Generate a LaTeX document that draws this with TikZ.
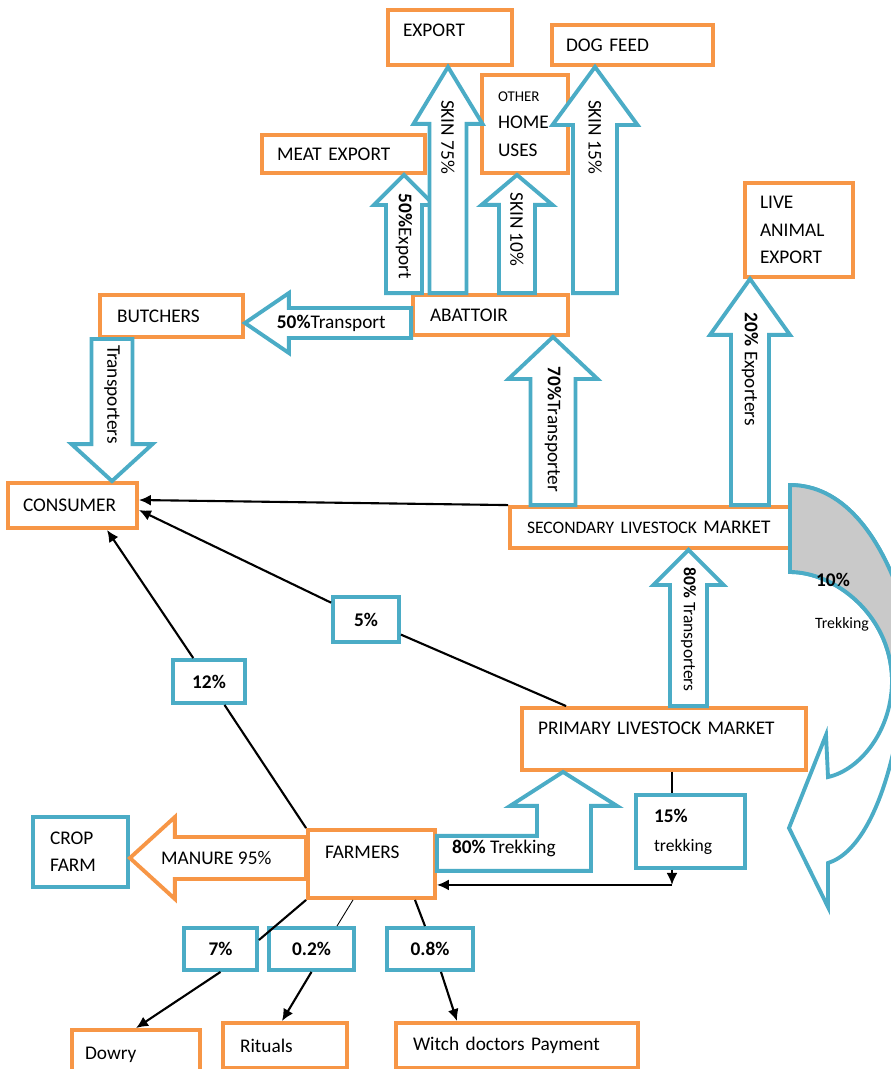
\documentclass[tikz,border=0pt]{standalone}
\usepackage{fontspec}
\setmainfont{Carlito}
\usetikzlibrary{arrows.meta,calc}

\definecolor{boxorange}{RGB}{247,150,70}
\definecolor{flowblue}{RGB}{75,172,198}
\definecolor{backgray}{RGB}{201,201,201}

% upright block arrow: tail, tip, shaft half, head half, head length (px), label pos, name, label
\newcommand{\vblk}[8]{%
  \draw[barrow] let \p1=(#1), \p2=(#2), \n1={sign(\y2-\y1)*#5*0.02cm} in
    (\x2-#3*0.02cm,\y1) -- (\x2-#3*0.02cm,\y2-\n1) -- (\x2-#4*0.02cm,\y2-\n1) -- (\p2)
    -- (\x2+#4*0.02cm,\y2-\n1) -- (\x2+#3*0.02cm,\y2-\n1) -- (\x2+#3*0.02cm,\y1) -- cycle
    node[vlbl] (#7) at (\x2,{\y1+#6*(\y2-\y1)}) {#8};}
% sideways block arrow: style, tail, tip, shaft half, head half, head length, label pos, name, label
\newcommand{\hblk}[9]{%
  \draw[#1] let \p1=(#2), \p2=(#3), \n1={sign(\x2-\x1)*#6*0.02cm} in
    (\x1,\y2+#4*0.02cm) -- (\x2-\n1,\y2+#4*0.02cm) -- (\x2-\n1,\y2+#5*0.02cm) -- (\p2)
    -- (\x2-\n1,\y2-#5*0.02cm) -- (\x2-\n1,\y2-#4*0.02cm) -- (\x1,\y2-#4*0.02cm) -- cycle
    node[hlbl] (#8) at ({\x1+#7*(\x2-\x1)},\y2) {#9};}

\begin{document}
\begin{tikzpicture}[
  x=0.02cm, y=-0.02cm,
  box/.style={draw=boxorange, line width=2.2pt, fill=white, inner sep=0pt, align=left,
    font=\fontsize{11}{15.6}\selectfont},
  bluebox/.style={box, draw=flowblue},
  pct/.style={bluebox, align=center, font=\fontsize{11}{13}\selectfont\bfseries},
  barrow/.style={draw=flowblue, line width=2.2pt, fill=white},
  oarrow/.style={barrow, draw=boxorange},
  vlbl/.style={rotate=-90, inner sep=0pt, font=\fontsize{11}{13}\selectfont},
  hlbl/.style={inner sep=0pt, font=\fontsize{11}{13}\selectfont},
  link/.style={line width=1.2pt, -{Latex[length=2.4mm,width=2.2mm]}},
  plain/.style={line width=1.2pt}
]
\clip (0,0) rectangle (891,1069);

% outlets of the abattoir
\node[box, minimum width=2.48cm, minimum height=1.1cm, text width=1.88cm, text depth=0.28cm] (export) at (450,37.5) {EXPORT};
\node[box, minimum width=3.22cm, minimum height=0.8cm, text width=2.66cm] (dogfeed) at (632.5,45) {DOG FEED};
\node[box, minimum width=1.72cm, minimum height=1.96cm, text width=1.08cm] (other) at (525,124) {{\fontsize{8.5}{10}\selectfont OTHER}\\HOME\\USES};
\node[box, minimum width=3.26cm, minimum height=0.76cm, text width=2.66cm] (meat) at (343.5,154) {MEAT EXPORT};
\node[box, minimum width=3.1cm, minimum height=0.8cm, text width=2.42cm] (abattoir) at (490.5,315) {ABATTOIR};
\node[box, minimum width=2.86cm, minimum height=0.84cm, text width=2.18cm] (butchers) at (171.5,316) {BUTCHERS};
\node[box, minimum width=2.58cm, minimum height=0.9cm, text width=1.98cm] (consumer) at (72.5,505.5) {CONSUMER};
\node[box, minimum width=2.16cm, minimum height=1.88cm, text width=1.56cm] (live) at (799,230) {LIVE\\ANIMAL\\EXPORT};

% markets and farmers
\node[box, minimum width=5.7cm, minimum height=0.82cm, text width=5.02cm] (secondary) at (652.5,527.5) {{\fontsize{10}{12}\selectfont SECONDARY LIVESTOCK} MARKET};
\node[box, minimum width=5.68cm, minimum height=1.24cm, text width=5.04cm, text depth=0.44cm] (primary) at (664,739) {PRIMARY LIVESTOCK MARKET};
\node[box, minimum width=2.54cm, minimum height=1.36cm, text width=1.86cm, text depth=0.48cm] (farmers) at (371.5,864) {FARMERS};
\node[bluebox, minimum width=1.9cm, minimum height=1.4cm, text width=1.22cm] (crop) at (80.5,852) {CROP\\FARM};
\node[bluebox, minimum width=2.18cm, minimum height=1.46cm, text width=1.46cm] (p15) at (690.5,831.5) {\textbf{15\%}\\[1pt]{\fontsize{10}{12}\selectfont trekking}};

% bottom row
\node[box, minimum width=2.56cm, minimum height=1cm, text width=2.04cm] (dowry) at (136,1055) {Dowry};
\node[box, minimum width=2.48cm, minimum height=0.9cm, text width=1.8cm] (rituals) at (285,1045.5) {Rituals};
\node[box, minimum width=4.84cm, minimum height=0.9cm, text width=4.16cm] (witch) at (517,1045.5) {Witch doctors Payment};

% shares
\node[pct, minimum width=1.32cm, minimum height=0.9cm] (p5) at (366,619.5) {5\%};
\node[pct, minimum width=1.44cm, minimum height=0.86cm] (p12) at (209,681.5) {12\%};
\node[pct, minimum width=1.46cm, minimum height=0.84cm] (p7) at (220.5,949) {7\%};
\node[pct, minimum width=1.7cm, minimum height=0.84cm] (p02) at (311.5,949) {0.2\%};
\node[pct, minimum width=1.72cm, minimum height=0.84cm] (p08) at (430,949) {0.8\%};

% thin links
\draw[link] (secondary.north west) -- ([yshift=0.11cm]consumer.east);
\draw[plain] ([xshift=0.92cm]primary.north west) -- (p5);
\draw[link] (p5) -- ([yshift=-0.09cm]consumer.east);
\draw[plain] (farmers.north west) -- (p12);
\draw[link] (p12) -- ([xshift=0.69cm]consumer.south);
\coordinate (pm) at ([xshift=0.16cm]primary.south);
\draw[plain] (pm) -- (pm |- p15.north);
\draw[link] (pm |- p15.south) -- ++(0,15) coordinate (c15);
\draw[link] (c15) -- (c15 -| farmers.east);
\draw[plain] (farmers.south west) -- ([yshift=0.18cm]p7.east);
\draw[link] (p7.south) -- (dowry.north);
\draw[line width=0.5pt] ([xshift=-0.37cm]farmers.south) -- ([xshift=0.51cm]p02.north);
\draw[link] (p02.south) -- ([xshift=-0.06cm]rituals.north);
\draw[plain] ([xshift=0.87cm]farmers.south) -- ([xshift=-0.1cm]p08.north);
\draw[link] ([xshift=0.22cm]p08.south) -- ([xshift=-1.2cm]witch.north);

% block arrows
\vblk{abattoir.north}{[xshift=1.21cm]meat.south}{18}{30}{30}{0.48}{lmeat}{\textbf{50\%}Export}
\vblk{abattoir.north}{[xshift=-0.04cm]export.south}{18.5}{34.5}{57}{0.69}{lskin75}{SKIN 75\%}
\vblk{abattoir.north}{[xshift=-0.16cm]other.south}{18}{35.5}{30}{0.54}{lskin10}{SKIN 10\%}
\vblk{abattoir.north}{[xshift=-0.75cm]dogfeed.south}{22}{42.5}{58}{0.69}{lskin15}{SKIN 15\%}
\hblk{barrow}{abattoir.west}{[yshift=-0.14cm]butchers.east}{15}{30}{44}{0.48}{ltransport}{\textbf{50\%}Transport}
\vblk{butchers.south}{[xshift=0.79cm]consumer.north}{20.5}{40.5}{37}{0.39}{ltrans}{Transporters}
\vblk{secondary.north}{[xshift=1.25cm]abattoir.south}{22.5}{44.5}{42}{0.45}{lseventy}{\textbf{70\%}Transporter}
\vblk{secondary.north}{[xshift=-0.98cm]live.south}{19}{40}{56}{0.6}{ltwenty}{\textbf{20\%} Exporters}
\vblk{primary.north}{[xshift=0.72cm]secondary.south}{18.5}{35}{35}{0.49}{leighty}{{\fontsize{10}{12}\selectfont\textbf{80\%} Transporters}}
\hblk{oarrow}{farmers.west}{[yshift=-0.12cm]crop.east}{21}{41}{45}{0.51}{lmanure}{MANURE 95\%}
\draw[barrow] let \p1=(farmers.east), \p2=([xshift=-2.02cm]primary.south) in
  (\x1,\y2-1.28cm) -- (\x2-0.52cm,\y2-1.28cm) -- (\x2-0.52cm,\y2-0.68cm) -- (\x2-1.06cm,\y2-0.68cm)
  -- (\p2) -- (\x2+1.08cm,\y2-0.68cm) -- (\x2+0.56cm,\y2-0.68cm) -- (\x2+0.56cm,\y2-1.98cm)
  -- (\x1,\y2-1.98cm) -- cycle
  node[hlbl] (ltrekking) at (\x1+1.34cm,\y2-1.54cm) {\textbf{80\%} Trekking};

% curved trekking arrow
\draw[barrow] (790,485) .. controls (840,485) and (880,530) .. (905,610)
  .. controls (912,700) and (885,845) .. (828,863) -- (828,907) -- (789,828) -- (826,735) -- (828,777)
  .. controls (860,770) and (893,730) .. (892,678) .. controls (890,615) and (835,572) .. (790,572) -- cycle;
\fill[backgray] (790,485) .. controls (840,485) and (880,530) .. (905,610) -- (910,678) -- (892,678)
  .. controls (890,615) and (835,572) .. (790,572) -- cycle;
\draw[flowblue, line width=2.2pt] (790,572) -- (790,485) .. controls (840,485) and (880,530) .. (905,610);
\draw[flowblue, line width=2.2pt] (790,572) .. controls (835,572) and (890,615) .. (892,678);
\node[inner sep=0pt, font=\fontsize{11}{13}\selectfont\bfseries] (lten) at (833,580) {10\%};
\node[inner sep=0pt, font=\fontsize{9}{11}\selectfont] (ltrek) at (842,624) {Trekking};
\end{tikzpicture}
\end{document}
